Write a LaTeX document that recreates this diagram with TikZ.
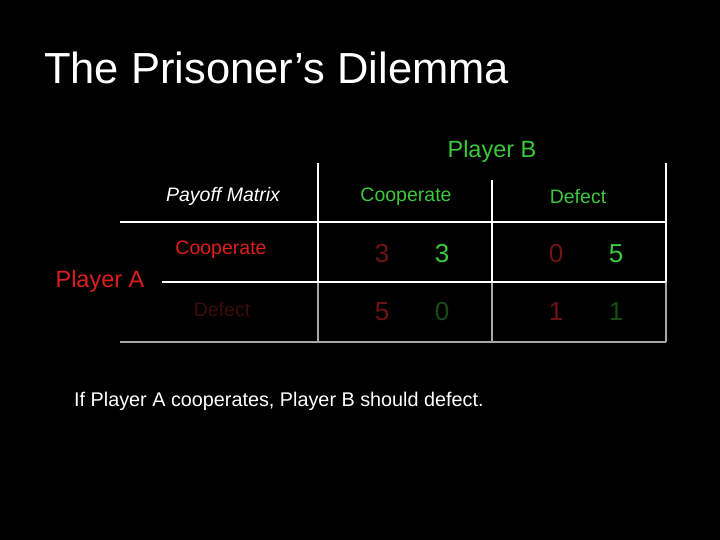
\documentclass[tikz,border=0pt]{standalone}
\usepackage{fontspec}
\setmainfont{Liberation Sans}
\usetikzlibrary{positioning}
\definecolor{pgreen}{RGB}{60,200,60}
\definecolor{pred}{RGB}{220,30,30}
\definecolor{dred}{RGB}{110,20,20}
\definecolor{dgreen}{RGB}{25,75,25}
\definecolor{ddred}{RGB}{60,12,12}
\begin{document}
\begin{tikzpicture}[x=1pt,y=-1pt,
    lab/.style={inner sep=0pt,font=\fontsize{19.5}{22}\selectfont},
    num/.style={inner sep=0pt,font=\fontsize{26}{28}\selectfont},
    grid/.style={white,line width=1.5pt},
    dim/.style={gray!70,line width=1.5pt}]
  \fill[black] (0,0) rectangle (720,540);
  \useasboundingbox (0,0) rectangle (720,540);
  \node[anchor=west,inner sep=0pt,white,font=\fontsize{43.5}{46}\selectfont] (title) at (44,68) {The Prisoner’s Dilemma};
  \node[lab,pgreen,font=\fontsize{23.5}{26}\selectfont] (pb) at (492,151) {Player B};
  \node[lab,pred,font=\fontsize{23.5}{26}\selectfont] (pa) at (100,281) {Player A};
  \node[lab,white,font=\fontsize{19.5}{22}\itshape] (pm) at (223,196) {Payoff Matrix};
  \node[lab,pgreen] (bc) at (406,197) {Cooperate};
  \node[lab,pgreen] (bd) at (578,197) {Defect};
  \node[lab,pred] (ac) at (221,250) {Cooperate};
  \node[lab,ddred] (ad) at (222,310) {Defect};
  \node[num,dred] (n1) at (382,254) {3};
  \node[num,pgreen] (n2) at (442,254) {3};
  \node[num,dred] (n3) at (556,254) {0};
  \node[num,pgreen] (n4) at (616,254) {5};
  \node[num,dred] (n5) at (382,312) {5};
  \node[num,dgreen] (n6) at (442,312) {0};
  \node[num,dred] (n7) at (556,312) {1};
  \node[num,dgreen] (n8) at (616,312) {1};
  % grid
  \draw[dim] (318,282) -- (318,342);
  \draw[dim] (492,282) -- (492,342);
  \draw[dim] (666,282) -- (666,342);
  \draw[dim] (120,342) -- (666,342);
  \draw[grid] (318,163) -- (318,282);
  \draw[grid] (492,180) -- (492,282);
  \draw[grid] (666,163) -- (666,282);
  \draw[grid] (120,222) -- (666,222);
  \draw[grid] (162,282) -- (666,282);
  \node[anchor=west,inner sep=0pt,white,font=\fontsize{19.8}{22}\selectfont] (note) at (74,401) {If Player A cooperates, Player B should defect.};
\end{tikzpicture}
\end{document}
